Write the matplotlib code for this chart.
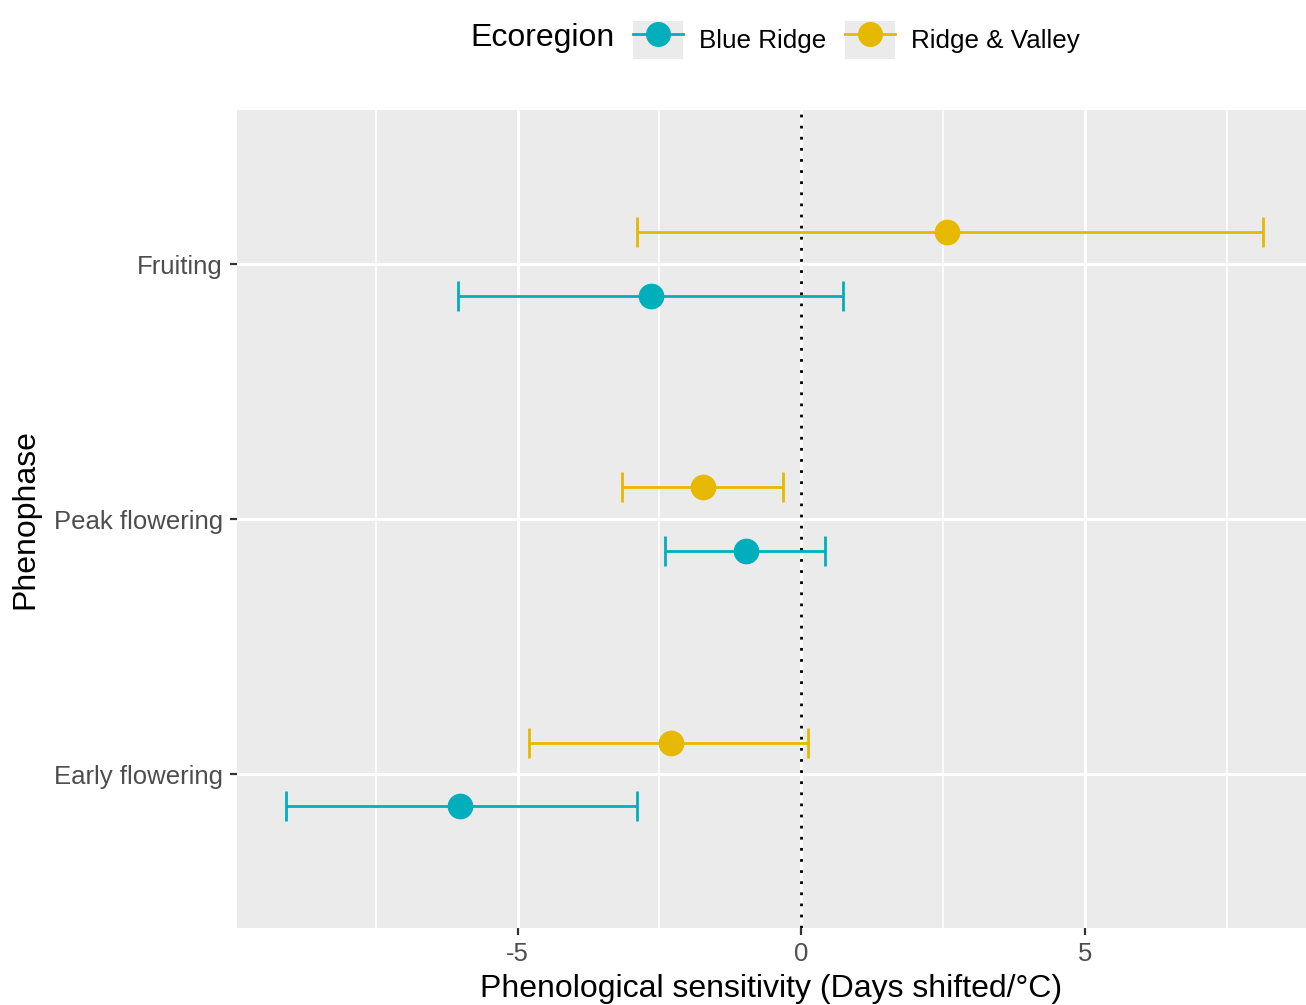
import matplotlib
matplotlib.use('Agg')
import matplotlib.pyplot as plt
from matplotlib.lines import Line2D
from matplotlib.patches import Patch
from matplotlib.legend_handler import HandlerTuple
import numpy as np

plt.rcParams['font.family'] = ['Liberation Sans', 'DejaVu Sans']

# data
phenophases = ['Early flowering', 'Peak flowering', 'Fruiting']
ecoregions = ['Blue Ridge', 'Ridge & Valley']
colors = {'Blue Ridge': '#00AFBB', 'Ridge & Valley': '#E7B800'}

estimate = {
    'Blue Ridge':     [-6.01, -0.97, -2.65],
    'Ridge & Valley': [-2.29, -1.73, 2.57],
}
lower = {
    'Blue Ridge':     [-9.08, -2.40, -6.05],
    'Ridge & Valley': [-4.80, -3.16, -2.89],
}
upper = {
    'Blue Ridge':     [-2.89, 0.42, 0.74],
    'Ridge & Valley': [0.12, -0.32, 8.15],
}

fig = plt.figure(figsize=(13.06, 10.05), dpi=100)
ax = fig.add_axes([237/1306, 1 - 928/1005, 1 - 237/1306, (928 - 110)/1005])
ax.set_facecolor('#EBEBEB')
for s in ax.spines.values():
    s.set_visible(False)

ypos = np.arange(len(phenophases)) + 1
dodge = {'Blue Ridge': -0.125, 'Ridge & Valley': 0.125}

for eco in ecoregions:
    est = np.array(estimate[eco])
    lo = np.array(lower[eco])
    hi = np.array(upper[eco])
    ax.errorbar(est, ypos + dodge[eco], xerr=[est - lo, hi - est],
                fmt='o', color=colors[eco], ms=17.5, elinewidth=2, capsize=11,
                capthick=2, zorder=3)

ax.axvline(0, color='black', linestyle=(0, (1, 3)), lw=2, zorder=2)

ax.set_xlim(-9.95, 8.9)
ax.set_ylim(0.398, 3.605)
ax.set_xticks([-5, 0, 5])
ax.set_xticklabels(['-5', '0', '5'])
ax.set_xticks([-7.5, -2.5, 2.5, 7.5], minor=True)
ax.set_yticks(ypos)
ax.set_yticklabels(phenophases)
ax.grid(which='major', color='white', lw=2.2, zorder=0)
ax.grid(which='minor', axis='x', color='white', lw=1.1, zorder=0)
ax.set_axisbelow(True)
ax.tick_params(which='major', length=5, width=1.6, color='#333333',
               labelcolor='#4D4D4D', labelsize=18.5, pad=5)
ax.tick_params(which='minor', length=0)

ax.set_xlabel('Phenological sensitivity (Days shifted/°C)', fontsize=23, labelpad=6)
ax.set_ylabel('Phenophase', fontsize=23, labelpad=10)

# legend on top
fig.text(470/1306, 1 - 38/1005, 'Ecoregion', fontsize=23, va='center', ha='left')
handles = []
for eco in ecoregions:
    handles.append((Patch(facecolor='#EBEBEB', edgecolor='none'),
                    Line2D([], [], color=colors[eco], lw=2, marker='o', ms=17)))
fig.legend(handles, ecoregions, handler_map={tuple: HandlerTuple(ndivide=1, pad=0)},
           loc='center left', bbox_to_anchor=(633/1306, 1 - 40/1005), ncol=2,
           frameon=False, fontsize=18.7, handlelength=1.93, handleheight=1.93,
           columnspacing=0.7, handletextpad=0.62, borderpad=0, borderaxespad=0)

fig.savefig('out.png', dpi=100)
